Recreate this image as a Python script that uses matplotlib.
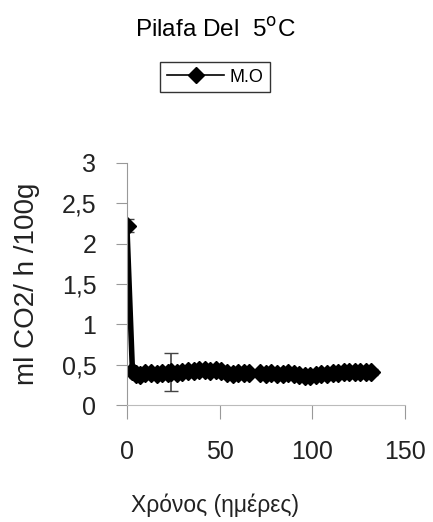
import numpy as np
import matplotlib
matplotlib.use("Agg")
import matplotlib.pyplot as plt
from matplotlib.lines import Line2D

plt.rcParams['font.family'] = ['Liberation Sans', 'DejaVu Sans']

days = [0, 3, 5, 7, 10, 13, 16, 19, 22, 24, 27, 30, 33, 36, 39, 42, 45, 48, 51, 54,
        57, 60, 63, 66, 69, 72, 75, 78, 81, 84, 87, 90, 93, 96, 99, 102, 105, 108,
        111, 114, 117, 120, 123, 126, 129, 132]
co2 = [2.22, 0.42, 0.38, 0.37, 0.40, 0.40, 0.39, 0.40, 0.40, 0.41, 0.40, 0.41, 0.42,
       0.42, 0.43, 0.43, 0.42, 0.43, 0.42, 0.40, 0.39, 0.40, 0.40, 0.40, np.nan, 0.40,
       0.39, 0.40, 0.39, 0.38, 0.40, 0.38, 0.37, 0.36, 0.36, 0.37, 0.38, 0.39, 0.40,
       0.40, 0.41, 0.41, 0.41, 0.41, 0.41, 0.41]
err = [0.08, 0.04, 0.05, 0.04, 0.04, 0.04, 0.04, 0.03, 0.04, 0.23, 0.03, 0.03, 0.03,
       0.03, 0.03, 0.03, 0.03, 0.04, 0.04, 0.04, 0.04, 0.03, 0.03, 0.03, np.nan, 0.04,
       0.04, 0.04, 0.05, 0.04, 0.03, 0.04, 0.04, 0.04, 0.04, 0.04, 0.04, 0.04, 0.04,
       0.04, 0.04, 0.05, 0.04, 0.04, 0.04, 0.04]

fig = plt.figure(figsize=(4.33, 5.22), dpi=100)
ax = fig.add_axes([0.293, 0.224, 0.642, 0.464])

ax.errorbar(days, co2, yerr=err, fmt='none', ecolor='#444444', elinewidth=1.2,
            capsize=5)
ax.plot(days, co2, color='black', marker='D', markersize=9, linewidth=4)

ax.set_xlim(0, 150)
ax.set_ylim(0, 3)
ax.set_xticks([0, 50, 100, 150])
ax.set_yticks([0, 0.5, 1, 1.5, 2, 2.5, 3])
ax.set_yticklabels(['0', '0,5', '1', '1,5', '2', '2,5', '3'])

for s in ['top', 'right']:
    ax.spines[s].set_visible(False)
ax.spines['left'].set_color('#999999')
ax.spines['bottom'].set_color('#bbbbbb')
ax.tick_params(axis='y', colors='#999999', labelcolor='#222222', labelsize=18,
               length=8, pad=14)
ax.tick_params(axis='x', colors='#999999', labelcolor='#222222', labelsize=18,
               length=10, pad=15)

ax.set_ylabel('ml CO2/ h /100g', fontsize=20, color='#222222', va='center')
ax.yaxis.set_label_coords(-0.36, 0.5)
ax.set_xlabel('Χρόνος (ημέρες)', fontsize=16.5, color='#222222', va='center')
ax.xaxis.set_label_coords(0.317, -0.415)

fig.text(0.497, 0.943, 'Pilafa Del  5$^{\\mathrm{o}}$C', ha='center', va='center',
         fontsize=17.5)
handle = Line2D([], [], color='black', marker='D', markersize=8, linewidth=1.2)
leg = fig.legend([handle], ['M.O'], loc='center', bbox_to_anchor=(0.497, 0.852),
                 fontsize=13, frameon=True, fancybox=False, handlelength=3.2,
                 borderpad=0.35, handletextpad=0.3)
leg.get_frame().set_edgecolor('black')
leg.get_frame().set_linewidth(1)

fig.savefig('out.png', dpi=100)
